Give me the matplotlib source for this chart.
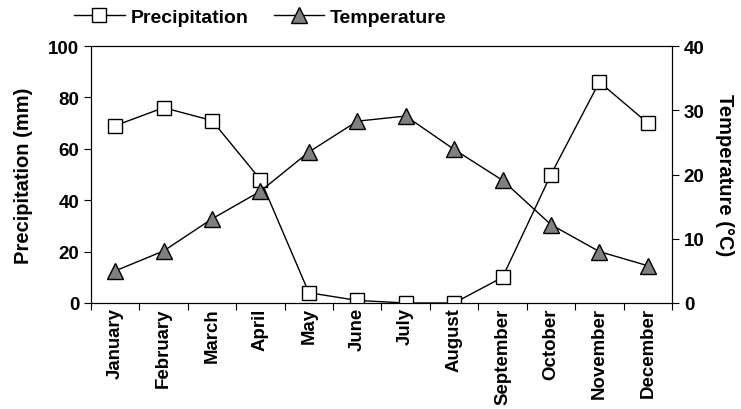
import matplotlib.pyplot as plt
from matplotlib.lines import Line2D

plt.rcParams['font.family'] = ['Liberation Sans', 'DejaVu Sans']
plt.rcParams['font.weight'] = 'bold'

months = ['January', 'February', 'March', 'April', 'May', 'June',
          'July', 'August', 'September', 'October', 'November', 'December']
precip = [69, 76, 71, 48, 4, 1, 0, 0, 10, 50, 86, 70]
temp = [5.0, 8.1, 13.1, 17.4, 23.5, 28.3, 29.1, 23.9, 19.1, 12.2, 8.0, 5.8]

fig = plt.figure(figsize=(7.41, 4.10), dpi=100)
ax = fig.add_axes([91 / 741, 1 - 304 / 410, 581 / 741, 257 / 410])
ax2 = ax.twinx()

x = list(range(len(months)))
ax.plot(x, precip, color='black', lw=1, marker='s', ms=10,
        mfc='white', mec='black', mew=1, zorder=3)
ax2.plot(x, temp, color='black', lw=1, marker='^', ms=11,
         mfc='#808080', mec='black', mew=1, zorder=3)

ax.set_xlim(-0.5, 11.5)
ax.set_ylim(0, 100)
ax2.set_ylim(0, 40)
ax.set_yticks([0, 20, 40, 60, 80, 100])
ax2.set_yticks([0, 10, 20, 30, 40])

# category ticks sit between months, labels at centres
ax.set_xticks([i - 0.5 for i in range(13)])
ax.set_xticklabels([])
ax.set_xticks(x, minor=True)
ax.set_xticklabels(months, minor=True, rotation=90, fontsize=13.4, fontweight='bold')
ax.tick_params(axis='x', which='minor', length=0, pad=3)
ax.tick_params(axis='x', which='major', length=5, direction='out')
ax.tick_params(axis='y', direction='out', length=5, labelsize=13.5)
ax2.tick_params(axis='y', direction='out', length=5, labelsize=13.5)

ax.set_ylabel('Precipitation (mm)', fontsize=14.5, fontweight='bold', labelpad=11)
ax2.set_ylabel('Temperature (°C)', fontsize=14.5, fontweight='bold',
               rotation=270, labelpad=21)

handles = [
    Line2D([], [], color='black', lw=1, marker='s', ms=10, mfc='white', mec='black'),
    Line2D([], [], color='black', lw=1, marker='^', ms=11, mfc='#808080', mec='black'),
]
fig.legend(handles, ['Precipitation', 'Temperature'], loc='center left',
           bbox_to_anchor=(74 / 741, 1 - 18 / 410), ncol=2, frameon=False,
           fontsize=14, handlelength=2.6, handletextpad=0.3, columnspacing=1.3,
           borderaxespad=0, borderpad=0)

fig.savefig('out.png', dpi=100)
